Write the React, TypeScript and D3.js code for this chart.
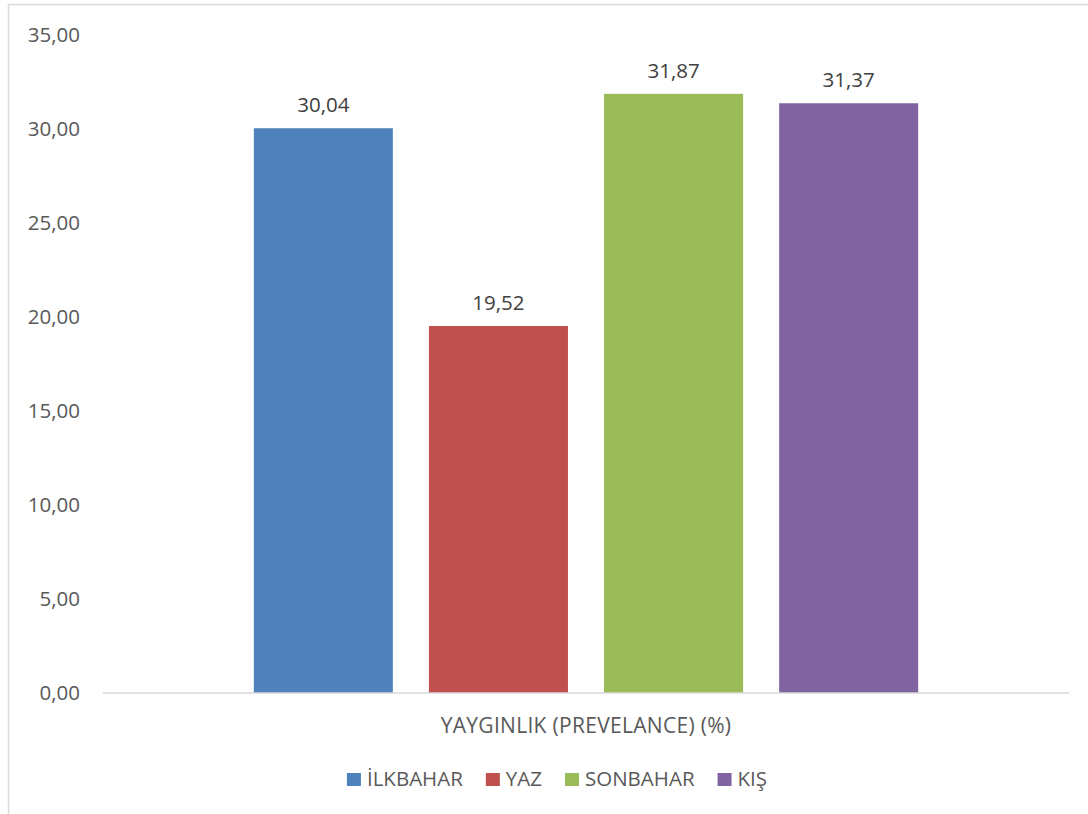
import React, { useEffect, useRef } from "react";
import * as d3 from "d3";

const categories = ["YAYGINLIK (PREVELANCE) (%)"];
const seriesNames = ["İLKBAHAR", "YAZ", "SONBAHAR", "KIŞ"];
const seriesValues = [30.04, 19.52, 31.87, 31.37];
const seriesColors = ["#4F81BD", "#C0504D", "#9BBB59", "#8064A2"];
const yTicks = [0, 5, 10, 15, 20, 25, 30, 35];

const W = 1088;
const H = 814;
const FONT = "'Open Sans', 'Noto Sans', sans-serif";
const fmt = (v: number) => v.toFixed(2).replace(".", ",");

export default function App() {
  const ref = useRef<SVGSVGElement>(null);

  useEffect(() => {
    const svg = d3.select(ref.current);
    svg.selectAll("*").remove();

    // chart border
    svg.append("rect")
      .attr("x", 8.5).attr("y", 4.5)
      .attr("width", W + 20).attr("height", H + 20)
      .attr("fill", "#fff").attr("stroke", "#d9d9d9").attr("stroke-width", 1.5);

    const left = 103, right = 1069, top = 35, bottom = 693;
    const y = d3.scaleLinear().domain([0, 35]).range([bottom, top]);
    const x0 = d3.scaleBand<string>().domain(categories).range([left, right])
      .paddingInner(0).paddingOuter(0.227);
    const x1 = d3.scaleBand<string>().domain(seriesNames).range([0, x0.bandwidth()])
      .paddingInner(0.206).paddingOuter(0);

    // y tick labels
    svg.append("g").selectAll("text").data(yTicks).join("text")
      .attr("x", 80).attr("y", (d) => y(d)).attr("dy", "0.35em")
      .attr("text-anchor", "end")
      .attr("font-family", FONT).attr("font-size", 20.5)
      .attr("fill", "#595959")
      .text((d) => fmt(d));

    // bars
    const g = svg.append("g").attr("transform", `translate(${x0(categories[0])},0)`);
    g.selectAll("rect").data(seriesNames).join("rect")
      .attr("x", (d) => x1(d)!)
      .attr("y", (_d, i) => y(seriesValues[i]))
      .attr("width", x1.bandwidth())
      .attr("height", (_d, i) => bottom - y(seriesValues[i]))
      .attr("fill", (_d, i) => seriesColors[i]);

    g.selectAll("text").data(seriesNames).join("text")
      .attr("x", (d) => x1(d)! + x1.bandwidth() / 2)
      .attr("y", (_d, i) => y(seriesValues[i]) - 16)
      .attr("text-anchor", "middle")
      .attr("font-family", FONT).attr("font-size", 20.5)
      .attr("fill", "#404040")
      .text((_d, i) => fmt(seriesValues[i]));

    // x axis line
    svg.append("line")
      .attr("x1", left).attr("x2", right).attr("y1", bottom).attr("y2", bottom)
      .attr("stroke", "#d9d9d9").attr("stroke-width", 1.5);

    // category label
    svg.append("text")
      .attr("x", x0(categories[0])! + x0.bandwidth() / 2).attr("y", 733)
      .attr("text-anchor", "middle")
      .attr("font-family", FONT).attr("font-size", 21).attr("letter-spacing", 0.3)
      .attr("fill", "#595959")
      .text(categories[0]);

    // legend
    const lg = svg.append("g");
    const items = lg.selectAll("g").data(seriesNames).join("g");
    items.append("rect").attr("width", 14).attr("height", 13).attr("y", 773)
      .attr("fill", (_d, i) => seriesColors[i]);
    items.append("text").attr("x", 20).attr("y", 786)
      .attr("font-family", FONT).attr("font-size", 20.5)
      .attr("fill", "#595959")
      .text((d) => d);
    const widths: number[] = [];
    items.select("text").each(function () {
      widths.push((this as SVGTextElement).getComputedTextLength());
    });
    const gap = 23;
    const itemW = widths.map((w) => 20 + w);
    const total = d3.sum(itemW) + gap * (itemW.length - 1);
    let cx = 557 - total / 2;
    const offs: number[] = [];
    itemW.forEach((w) => { offs.push(cx); cx += w + gap; });
    items.attr("transform", (_d, i) => `translate(${offs[i]},0)`);
  }, []);

  return (
    <svg ref={ref} width={W} height={H}
      style={{ position: "absolute", left: 0, top: 0, background: "#fff" }} />
  );
}
